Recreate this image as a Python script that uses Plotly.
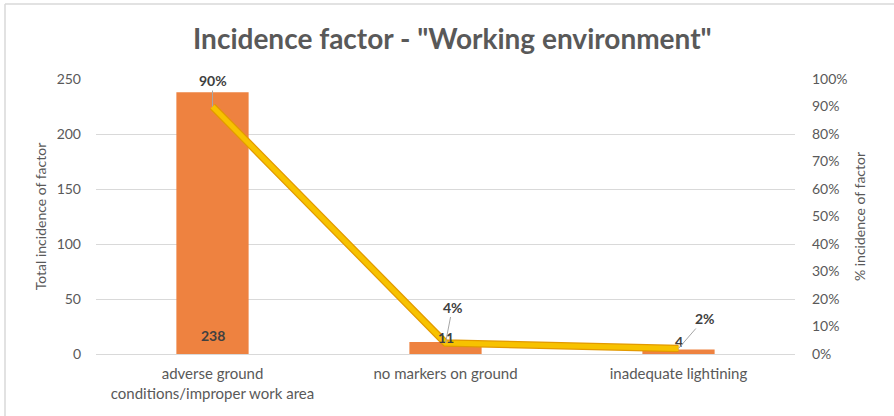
import plotly.graph_objects as go

categories = ["adverse ground<br>conditions/improper work area",
              "no markers on ground",
              "inadequate lightining"]
totals = [238, 11, 4]
percent = [0.90, 0.04, 0.02]
percent_labels = ["90%", "4%", "2%"]

FONT = "Lato, 'Open Sans', sans-serif"
GREY = "#595959"
DARK = "#404040"

fig = go.Figure()

fig.add_trace(go.Bar(
    x=categories, y=totals,
    marker=dict(color="#EE8240", line=dict(width=0)),
    hoverinfo="skip",
    showlegend=False,
))

# line drawn twice: darker outline under a gold stroke
fig.add_trace(go.Scatter(
    x=categories, y=percent, yaxis="y2", mode="lines",
    line=dict(color="#E39A00", width=7.5),
    hoverinfo="skip", showlegend=False,
))
fig.add_trace(go.Scatter(
    x=categories, y=percent, yaxis="y2", mode="lines",
    line=dict(color="#F7C200", width=5),
    hoverinfo="skip", showlegend=False,
))

# value labels for the bars
bar_label_pos = [(0, "bottom", 8), (11, "middle", 4), (4, "middle", 8)]
for cat, v, (ybase, anchor, shift) in zip(categories, totals, bar_label_pos):
    fig.add_annotation(
        x=cat, y=ybase, xref="x", yref="y", text="<b>%d</b>" % v,
        showarrow=False, yanchor=anchor, yshift=shift,
        font=dict(family=FONT, size=14, color=DARK),
    )

# percentage labels with leader lines
offsets = [(0, -26), (7, -36), (26, -30)]
for cat, p, lab, (ax, ay) in zip(categories, percent, percent_labels, offsets):
    fig.add_annotation(
        x=cat, y=p, xref="x", yref="y2", text="<b>%s</b>" % lab,
        showarrow=True, arrowhead=0, arrowwidth=1, arrowcolor="#A6A6A6",
        ax=ax, ay=ay,
        font=dict(family=FONT, size=14, color=DARK),
    )

fig.update_layout(
    width=894, height=416,
    margin=dict(l=96, r=99, t=79, b=62),
    paper_bgcolor="white", plot_bgcolor="white",
    bargap=0.69,
    title=dict(text="<b>Incidence factor - \"Working environment\"</b>",
               x=0.506, xanchor="center", y=0.905, yanchor="middle",
               font=dict(family=FONT, size=28, color=GREY)),
    xaxis=dict(
        showgrid=False, showline=True, linecolor="#D9D9D9", linewidth=1,
        ticks="", tickfont=dict(family=FONT, size=15, color=GREY),
        ticklabelstandoff=6, zeroline=False,
    ),
    yaxis=dict(
        range=[0, 250], dtick=50, showgrid=True, gridcolor="#D9D9D9",
        gridwidth=1, zeroline=False, showline=False, ticks="",
        tickfont=dict(family=FONT, size=14, color=GREY), ticklabelstandoff=14,
        title=dict(text="Total incidence of factor", standoff=6,
                   font=dict(family=FONT, size=14, color=GREY)),
    ),
    yaxis2=dict(
        range=[0, 1], dtick=0.1, tickformat=".0%", overlaying="y",
        side="right", showgrid=False, zeroline=False, showline=False,
        ticks="", tickfont=dict(family=FONT, size=14, color=GREY),
        ticklabelstandoff=16,
        title=dict(text="% incidence of factor", standoff=8,
                   font=dict(family=FONT, size=14, color=GREY)),
    ),
    shapes=[
        dict(type="line", xref="paper", yref="paper",
             x0=-91 / 699, x1=1.2, y0=1 + 75 / 275, y1=1 + 75 / 275,
             line=dict(color="#D9D9D9", width=1.5)),
        dict(type="line", xref="paper", yref="paper",
             x0=-91 / 699, x1=-91 / 699, y0=1 + 75 / 275, y1=-0.3,
             line=dict(color="#D9D9D9", width=1.5)),
    ],
)

fig.write_html("out.html")
